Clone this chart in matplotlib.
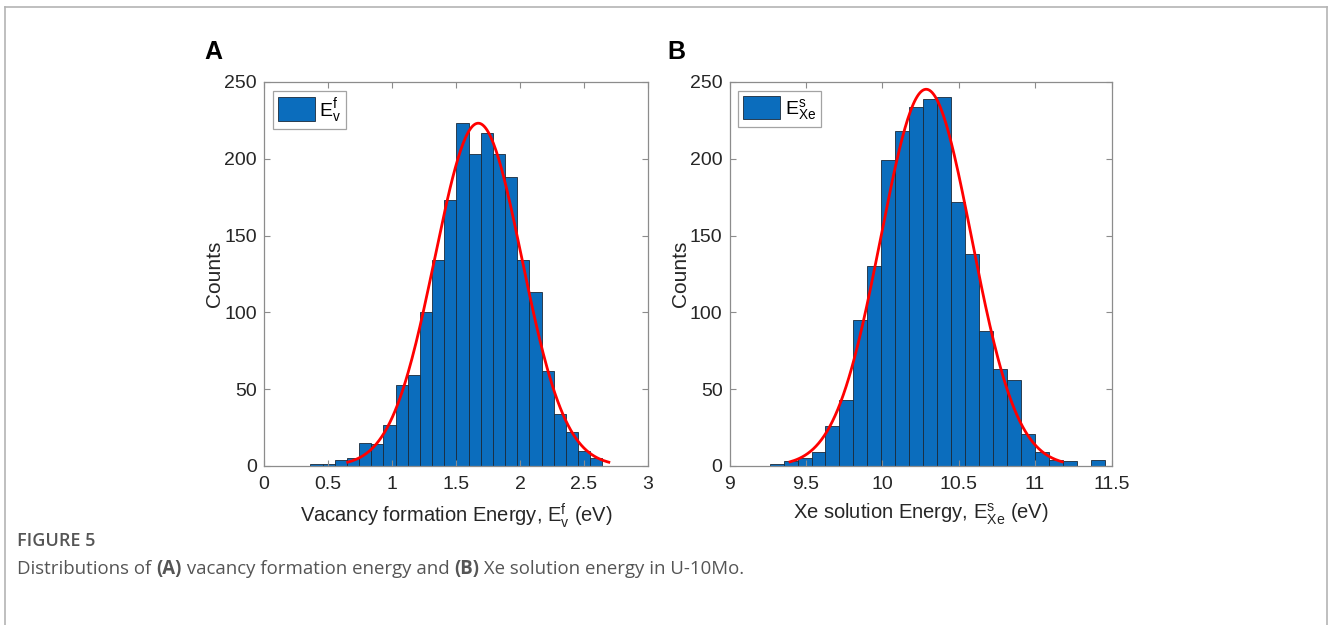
import numpy as np
import matplotlib.pyplot as plt
from matplotlib.lines import Line2D

plt.rcParams['font.family'] = ['Liberation Sans', 'DejaVu Sans']
plt.rcParams['mathtext.fontset'] = 'custom'
plt.rcParams['mathtext.rm'] = 'Liberation Sans'
plt.rcParams['mathtext.it'] = 'Liberation Sans'
plt.rcParams['mathtext.default'] = 'regular'

# panel A : vacancy formation energy (24 bins)
a_first_edge = 0.362
a_bin_width = 0.0951
a_counts = [1, 1, 4, 5, 15, 14, 27, 53, 59, 100, 134, 173,
            223, 203, 217, 203, 188, 134, 113, 62, 34, 22, 10, 5]
a_mu, a_sigma = 1.674, 0.340

# panel B : Xe solution energy (24 bins)
b_first_edge = 9.263
b_bin_width = 0.0913
b_counts = [1, 3, 5, 9, 26, 43, 95, 130, 199, 218, 234, 239,
            240, 172, 138, 88, 63, 56, 21, 9, 4, 3, 0, 4]
b_mu, b_sigma = 10.287, 0.297

bar_color = '#0b6dbd'
axis_gray = '#8c8c8c'
text_gray = '#262626'


def draw_panel(ax, first_edge, width, counts, mu, sigma, xlim, xticks,
               xticklabels, xlabel, leg_label):
    counts = np.array(counts)
    edges = first_edge + width * np.arange(len(counts) + 1)
    ax.bar(edges[:-1], counts, width=width, align='edge', color=bar_color,
           edgecolor='#1a2a3a', linewidth=0.6, label=leg_label)
    # histfit style normal curve, mean +/- 3 sigma
    xs = np.linspace(mu - 3 * sigma, mu + 3 * sigma, 200)
    n = counts.sum()
    ys = n * width * np.exp(-0.5 * ((xs - mu) / sigma) ** 2) / (sigma * np.sqrt(2 * np.pi))
    ax.plot(xs, ys, color='#ff0000', lw=2.0)
    ax.set_xlim(*xlim)
    ax.set_ylim(0, 250)
    ax.set_xticks(xticks)
    ax.set_xticklabels(xticklabels)
    ax.set_yticks([0, 50, 100, 150, 200, 250])
    ax.tick_params(direction='in', top=True, right=True, length=4,
                   color=axis_gray, labelcolor=text_gray, labelsize=14)
    ax.tick_params(axis='x', pad=7.5)
    ax.tick_params(axis='y', pad=5)
    for s in ax.spines.values():
        s.set_color(axis_gray)
        s.set_linewidth(0.9)
    ax.set_ylabel('Counts', fontsize=15, color=text_gray, labelpad=0)
    ax.set_xlabel(xlabel, fontsize=14.5, color=text_gray, labelpad=6)
    leg = ax.legend(loc='upper left', fancybox=False, edgecolor=axis_gray,
                    fontsize=14, handlelength=1.9, handleheight=1.5,
                    borderaxespad=0.45, borderpad=0.25, handletextpad=0.25)
    leg.get_frame().set_linewidth(0.9)


fig = plt.figure(figsize=(13.28, 6.25), dpi=100)
W, H = 1328, 625

axA = fig.add_axes([264 / W, (H - 466) / H, 384 / W, 384 / H])
draw_panel(axA, a_first_edge, a_bin_width, a_counts, a_mu, a_sigma, (0, 3),
           [0, 0.5, 1, 1.5, 2, 2.5, 3], ['0', '0.5', '1', '1.5', '2', '2.5', '3'],
           r'Vacancy formation Energy, $E_v^f$ (eV)', r'$E_v^f$')

axB = fig.add_axes([729.5 / W, (H - 466) / H, 382 / W, 384 / H])
draw_panel(axB, b_first_edge, b_bin_width, b_counts, b_mu, b_sigma, (9, 11.5),
           [9, 9.5, 10, 10.5, 11, 11.5], ['9', '9.5', '10', '10.5', '11', '11.5'],
           r'Xe solution Energy, $E_{Xe}^s$ (eV)', r'$E_{Xe}^s$')

fig.text(213 / W, 1 - 52 / H, 'A', fontsize=18, fontweight='bold', ha='center', va='center')
fig.text(676 / W, 1 - 52 / H, 'B', fontsize=18, fontweight='bold', ha='center', va='center')

# page frame
frame_col = '#b4b4b4'
fig.add_artist(Line2D([4.5 / W, 4.5 / W], [0, 1 - 7 / H], color=frame_col, lw=1.2))
fig.add_artist(Line2D([4.5 / W, 1326.5 / W], [1 - 7 / H, 1 - 7 / H], color=frame_col, lw=1.2))
fig.add_artist(Line2D([1326.5 / W, 1326.5 / W], [0, 1 - 7 / H], color=frame_col, lw=1.2))

# caption
cap_col = '#555555'
cap_font = ['Open Sans', 'DejaVu Sans']
fig.text(17 / W, 1 - 541 / H, 'FIGURE 5', fontsize=13, color=cap_col,
         family=cap_font, fontweight='semibold', va='center')
pieces = [('Distributions of ', 'normal'), ('(A)', 'bold'),
          (' vacancy formation energy and ', 'normal'), ('(B)', 'bold'),
          (' Xe solution energy in U-10Mo.', 'normal')]
renderer = fig.canvas.get_renderer()
x = 17.0
for txt, wt in pieces:
    t = fig.text(x / W, 1 - 569 / H, txt, fontsize=13.4, color=cap_col,
                 family=cap_font, fontweight=wt, va='center')
    x += t.get_window_extent(renderer).width

fig.savefig('out.png', dpi=100)
